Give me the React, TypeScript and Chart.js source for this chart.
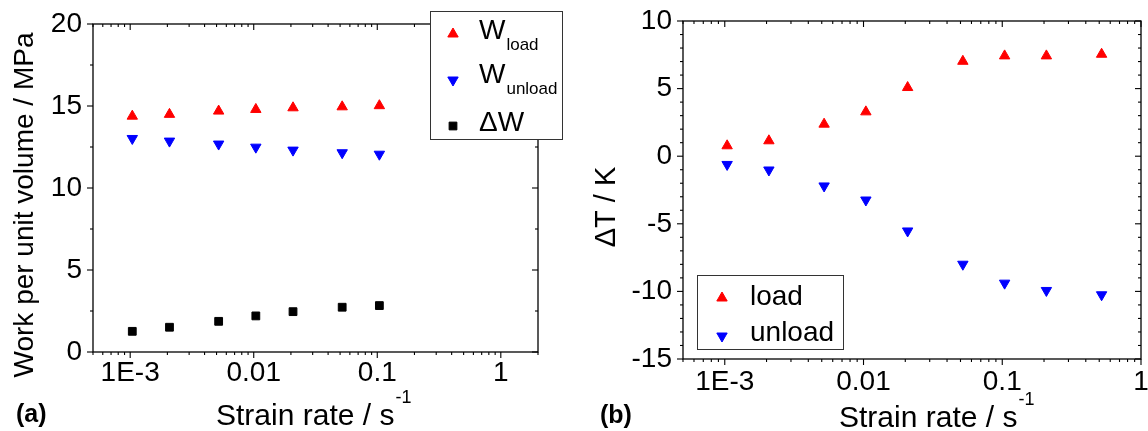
import React, { useEffect, useRef } from 'react';
import { Chart, registerables } from 'chart.js';
Chart.register(...registerables);

const FONT = '"Liberation Sans", Arial, Helvetica, sans-serif';

// ---------- Panel (a) data ----------
const rateA = [0.00104, 0.00208, 0.0052, 0.0104, 0.0208, 0.052, 0.104];
const wLoad = [14.38, 14.49, 14.69, 14.79, 14.89, 14.95, 15.02];
const wUnload = [13.02, 12.86, 12.68, 12.49, 12.31, 12.15, 12.06];
const deltaW = [1.26, 1.51, 1.87, 2.2, 2.46, 2.73, 2.83];

// ---------- Panel (b) data ----------
const rateB = [0.00104, 0.00208, 0.0052, 0.0104, 0.0208, 0.052, 0.104, 0.208, 0.52];
const dtLoad = [0.77, 1.14, 2.37, 3.28, 5.08, 7.02, 7.42, 7.42, 7.54];
const dtUnload = [-0.61, -1.02, -2.2, -3.24, -5.53, -7.99, -9.39, -9.93, -10.25];

// ---------- tick labels ----------
const decadeValues = [0.001, 0.01, 0.1, 1];
const decadeLabels = ['1E-3', '0.01', '0.1', '1'];

const RED = '#ff0000';
const BLUE = '#0000ff';
const BLACK = '#000000';

const TRI_R = 6;
const SQ_R = 5.5;

type MarkerStyle = 'up' | 'down' | 'square';

function drawMarker(ctx: CanvasRenderingContext2D, style: MarkerStyle, x: number, y: number, color: string) {
  ctx.save();
  ctx.fillStyle = color;
  ctx.strokeStyle = color;
  ctx.lineWidth = 1;
  ctx.beginPath();
  if (style === 'square') {
    const s = Math.SQRT1_2 * SQ_R;
    ctx.rect(x - s, y - s, 2 * s, 2 * s);
  } else {
    const r = TRI_R;
    const sgn = style === 'up' ? 1 : -1;
    ctx.moveTo(x, y - sgn * r);
    ctx.lineTo(x + 0.866 * r, y + sgn * 0.5 * r);
    ctx.lineTo(x - 0.866 * r, y + sgn * 0.5 * r);
    ctx.closePath();
  }
  ctx.fill();
  ctx.stroke();
  ctx.restore();
}

type LegendRow = {
  style: MarkerStyle; color: string; main: string; sub?: string;
  mx: number; my: number; tx: number; ty: number; subY?: number; size: number;
};

type PanelCfg = {
  xMin: number; xMax: number; yMin: number; yMax: number; yMinor: number;
  padRight: number; padTop: number; yWidth: number; xHeight: number;
  xTickPad: number; yTickPad: number;
  xTitleX: number; xTitleY: number; supY: number;
  yTitle: string; yTitleX: number; yTitleY: number; yTitleSize: number;
  panel: string; panelX: number; panelY: number;
  legendBox: [number, number, number, number];
  legendRows: LegendRow[];
  datasets: any[];
};

function makePlugin(p: PanelCfg) {
  return {
    id: 'originFrame',
    beforeDatasetsDraw(chart: any) {
      const { ctx, chartArea: a, scales } = chart;
      const xs = scales.x, ys = scales.y;
      ctx.save();
      ctx.strokeStyle = '#000';
      ctx.lineWidth = 1.3;
      ctx.strokeRect(a.left, a.top, a.right - a.left, a.bottom - a.top);
      ctx.lineWidth = 1.1;
      const line = (x1: number, y1: number, x2: number, y2: number) => {
        ctx.beginPath(); ctx.moveTo(x1, y1); ctx.lineTo(x2, y2); ctx.stroke();
      };
      const e0 = Math.floor(Math.log10(p.xMin));
      const e1 = Math.ceil(Math.log10(p.xMax));
      for (let e = e0; e <= e1; e++) {
        for (let m = 1; m <= 9; m++) {
          const v = m * Math.pow(10, e);
          if (v < p.xMin * 0.999 || v > p.xMax * 1.001) continue;
          const px = xs.getPixelForValue(v);
          const len = m === 1 ? 6 : 3;
          line(px, a.bottom, px, a.bottom + len);
          line(px, a.top, px, a.top + len);
        }
      }
      const n = Math.round((p.yMax - p.yMin) / p.yMinor);
      for (let i = 0; i <= n; i++) {
        const v = p.yMin + i * p.yMinor;
        const major = Math.abs(v / 5 - Math.round(v / 5)) < 1e-6;
        const len = major ? 6 : 3;
        const py = ys.getPixelForValue(v);
        line(a.left - len, py, a.left, py);
        line(a.right - len, py, a.right, py);
      }
      ctx.restore();
    },
    afterDraw(chart: any) {
      const { ctx } = chart;
      ctx.save();
      ctx.fillStyle = '#000';
      ctx.textAlign = 'left';
      ctx.textBaseline = 'alphabetic';
      // x title with superscript
      ctx.font = `30px ${FONT}`;
      const main = 'Strain rate / s';
      ctx.fillText(main, p.xTitleX, p.xTitleY);
      const w = ctx.measureText(main).width;
      ctx.font = `18px ${FONT}`;
      ctx.fillText('-1', p.xTitleX + w + 1, p.supY);
      // y title
      ctx.save();
      ctx.translate(p.yTitleX, p.yTitleY);
      ctx.rotate(-Math.PI / 2);
      ctx.textAlign = 'center';
      ctx.font = `${p.yTitleSize}px ${FONT}`;
      ctx.fillText(p.yTitle, 0, 0);
      ctx.restore();
      // panel label
      ctx.font = `bold 25px ${FONT}`;
      ctx.fillText(p.panel, p.panelX, p.panelY);
      // legend
      const [bx, by, bw, bh] = p.legendBox;
      ctx.fillStyle = '#fff';
      ctx.fillRect(bx, by, bw, bh);
      ctx.strokeStyle = '#333';
      ctx.lineWidth = 1;
      ctx.strokeRect(bx + 0.5, by + 0.5, bw, bh);
      for (const r of p.legendRows) {
        drawMarker(ctx, r.style, r.mx, r.my, r.color);
        ctx.fillStyle = '#000';
        ctx.font = `${r.size}px ${FONT}`;
        ctx.fillText(r.main, r.tx, r.ty);
        if (r.sub) {
          const mw = ctx.measureText(r.main).width;
          ctx.font = `17px ${FONT}`;
          ctx.fillText(r.sub, r.tx + mw + 1, r.subY as number);
        }
      }
      ctx.restore();
    },
  };
}

function pts(xs: number[], ys: number[]) {
  return xs.map((x, i) => ({ x, y: ys[i] }));
}

function ds(label: string, xs: number[], ys: number[], color: string, style: string, rot: number, radius: number) {
  return {
    label,
    data: pts(xs, ys),
    pointStyle: style,
    pointRotation: rot,
    pointRadius: radius,
    pointBackgroundColor: color,
    pointBorderColor: color,
    pointBorderWidth: 1,
    showLine: false,
  };
}

function makeConfig(p: PanelCfg): any {
  return {
    type: 'scatter',
    data: { datasets: p.datasets },
    options: {
      responsive: false,
      animation: false,
      events: [],
      layout: { padding: { left: 0, right: p.padRight, top: p.padTop, bottom: 0 } },
      plugins: { legend: { display: false }, tooltip: { enabled: false } },
      scales: {
        x: {
          type: 'logarithmic',
          min: p.xMin,
          max: p.xMax,
          grid: { display: false, drawTicks: false },
          border: { display: false },
          ticks: {
            font: { family: FONT, size: 28 },
            color: '#000',
            padding: p.xTickPad,
            autoSkip: false,
            maxRotation: 0,
            callback: (v: any) => {
              const idx = decadeValues.findIndex((d) => Math.abs(Math.log10(d) - Math.log10(Number(v))) < 1e-6);
              return idx >= 0 ? decadeLabels[idx] : '';
            },
          },
          afterBuildTicks: (s: any) => {
            s.ticks = decadeValues
              .filter((v) => v >= p.xMin * 0.999 && v <= p.xMax * 1.001)
              .map((v) => ({ value: v }));
          },
          afterFit: (s: any) => {
            s.height = p.xHeight;
            s.paddingLeft = 0;
            s.paddingRight = 0;
          },
        },
        y: {
          type: 'linear',
          min: p.yMin,
          max: p.yMax,
          grid: { display: false, drawTicks: false },
          border: { display: false },
          ticks: {
            stepSize: 5,
            font: { family: FONT, size: 28 },
            color: '#000',
            padding: p.yTickPad,
          },
          afterFit: (s: any) => {
            s.width = p.yWidth;
            s.paddingTop = 0;
            s.paddingBottom = 0;
          },
        },
      },
    },
    plugins: [makePlugin(p)],
  };
}

const panelA: PanelCfg = {
  xMin: 5e-4, xMax: 2, yMin: 0, yMax: 20, yMinor: 2.5,
  padRight: 574 - 538, padTop: 24, yWidth: 93, xHeight: 431 - 352,
  xTickPad: 4, yTickPad: 11,
  xTitleX: 216, xTitleY: 425, supY: 403,
  yTitle: 'Work per unit volume / MPa', yTitleX: 33, yTitleY: 205, yTitleSize: 28,
  panel: '(a)', panelX: 16, panelY: 422,
  legendBox: [430, 11, 132, 128],
  legendRows: [
    { style: 'up', color: RED, main: 'W', sub: 'load', mx: 453, my: 34, tx: 479, ty: 39, subY: 50, size: 28 },
    { style: 'down', color: BLUE, main: 'W', sub: 'unload', mx: 453, my: 80, tx: 479, ty: 83, subY: 94, size: 28 },
    { style: 'square', color: BLACK, main: 'ΔW', mx: 453, my: 126, tx: 479, ty: 131, size: 28 },
  ],
  datasets: [
    ds('Wload', rateA, wLoad, RED, 'triangle', 0, TRI_R),
    ds('Wunload', rateA, wUnload, BLUE, 'triangle', 180, TRI_R),
    ds('ΔW', rateA, deltaW, BLACK, 'rect', 0, SQ_R),
  ],
};

const OFF = 574;
const panelB: PanelCfg = {
  xMin: 5e-4, xMax: 1, yMin: -15, yMax: 10, yMinor: 1,
  padRight: 1148 - 1141, padTop: 21, yWidth: 683 - OFF, xHeight: 431 - 359,
  xTickPad: 6, yTickPad: 11,
  xTitleX: 839 - OFF, xTitleY: 427, supY: 405,
  yTitle: 'ΔT / K', yTitleX: 615 - OFF, yTitleY: 207, yTitleSize: 29,
  panel: '(b)', panelX: 600 - OFF, panelY: 423,
  legendBox: [697 - OFF, 275, 146, 74],
  legendRows: [
    { style: 'up', color: RED, main: 'load', mx: 722 - OFF, my: 298, tx: 750 - OFF, ty: 305, size: 28 },
    { style: 'down', color: BLUE, main: 'unload', mx: 722 - OFF, my: 336, tx: 750 - OFF, ty: 341, size: 28 },
  ],
  datasets: [
    ds('load', rateB, dtLoad, RED, 'triangle', 0, TRI_R),
    ds('unload', rateB, dtUnload, BLUE, 'triangle', 180, TRI_R),
  ],
};

function Panel({ cfg, left }: { cfg: PanelCfg; left: number }) {
  const ref = useRef<HTMLCanvasElement | null>(null);
  useEffect(() => {
    if (!ref.current) return;
    const chart = new Chart(ref.current, makeConfig(cfg));
    return () => chart.destroy();
  }, [cfg]);
  return (
    <canvas
      ref={ref}
      width={574}
      height={431}
      style={{ position: 'absolute', left, top: 0, width: 574, height: 431, display: 'block' }}
    />
  );
}

export default function App() {
  return (
    <div style={{ position: 'absolute', left: 0, top: 0, width: 1148, height: 431, background: '#fff', overflow: 'hidden' }}>
      <Panel cfg={panelA} left={0} />
      <Panel cfg={panelB} left={OFF} />
    </div>
  );
}
